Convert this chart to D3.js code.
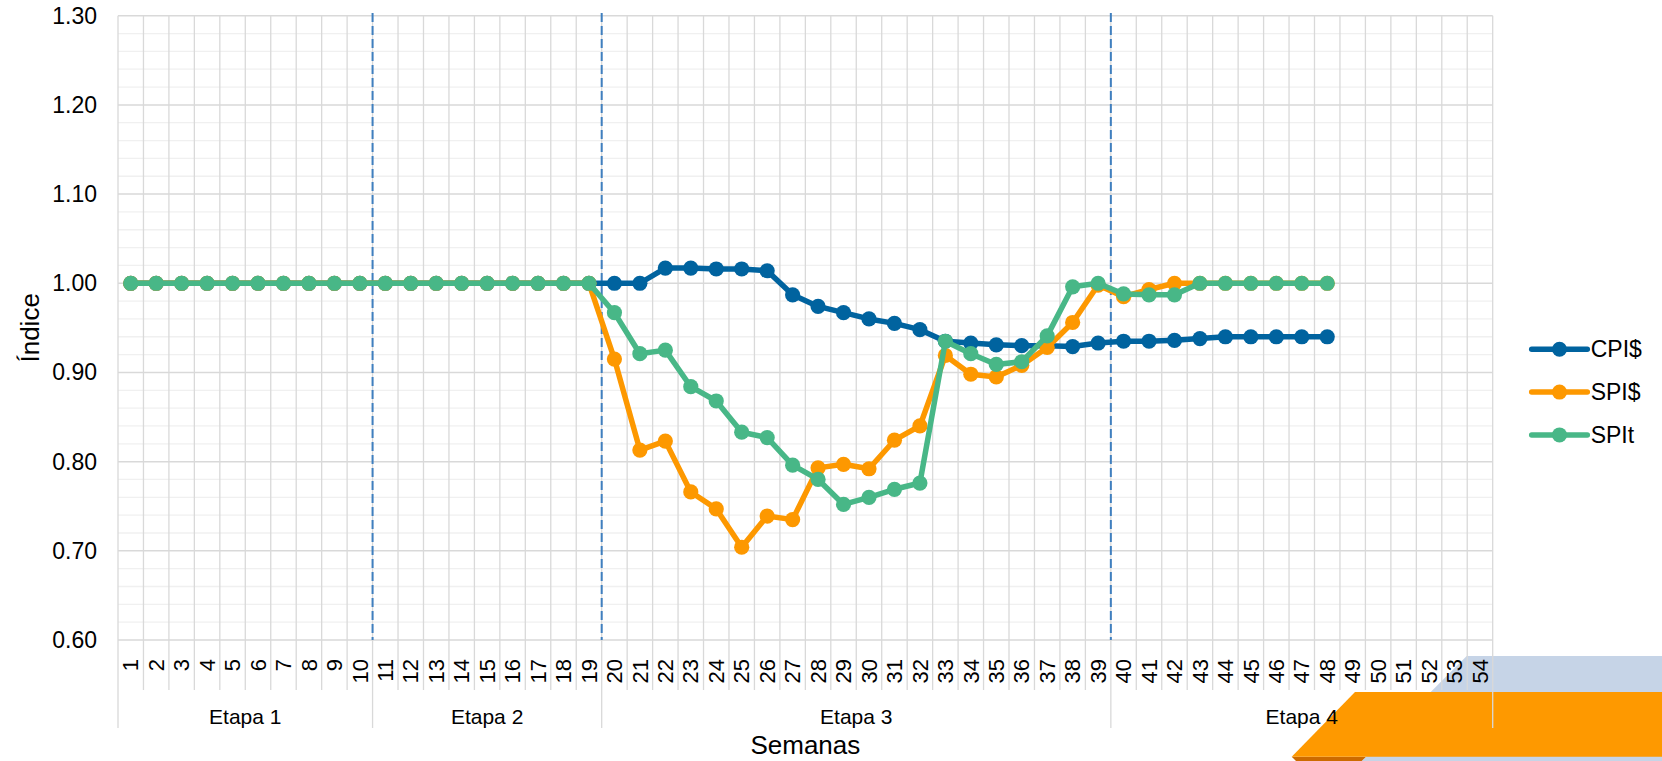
<!DOCTYPE html>
<html lang="es">
<head>
<meta charset="utf-8">
<script src="https://cdn.jsdelivr.net/npm/d3@7"></script>
<style>
  html, body { margin: 0; padding: 0; background: #ffffff; }
  svg { display: block; font-family: "Liberation Sans", Arial, sans-serif; }
</style>
</head>
<body>
<svg id="chart" width="1662" height="761"></svg>
<script>
// Semanas 1..54
const weeks = d3.range(1, 55);

// Etapas del proyecto (primera y última semana de cada una)
const stageNames = ["Etapa 1", "Etapa 2", "Etapa 3", "Etapa 4"];
const stageStart = [1, 11, 20, 40];
const stageEnd   = [10, 19, 39, 54];

// Índices semanales (semanas 1..48)
const cpi = [
  1.000, 1.000, 1.000, 1.000, 1.000, 1.000, 1.000, 1.000, 1.000, 1.000,
  1.000, 1.000, 1.000, 1.000, 1.000, 1.000, 1.000, 1.000, 1.000, 1.000,
  1.000, 1.017, 1.017, 1.016, 1.016, 1.014, 0.987, 0.974, 0.967, 0.960,
  0.955, 0.948, 0.935, 0.933, 0.931, 0.930, 0.930, 0.929, 0.933, 0.935,
  0.935, 0.936, 0.938, 0.940, 0.940, 0.940, 0.940, 0.940
];
const spiCost = [
  1.000, 1.000, 1.000, 1.000, 1.000, 1.000, 1.000, 1.000, 1.000, 1.000,
  1.000, 1.000, 1.000, 1.000, 1.000, 1.000, 1.000, 1.000, 1.000, 0.915,
  0.813, 0.823, 0.766, 0.747, 0.704, 0.739, 0.735, 0.793, 0.797, 0.792,
  0.824, 0.840, 0.919, 0.898, 0.895, 0.908, 0.928, 0.956, 0.998, 0.985,
  0.993, 1.000, 1.000, 1.000, 1.000, 1.000, 1.000, 1.000
];
const spiTime = [
  1.000, 1.000, 1.000, 1.000, 1.000, 1.000, 1.000, 1.000, 1.000, 1.000,
  1.000, 1.000, 1.000, 1.000, 1.000, 1.000, 1.000, 1.000, 1.000, 0.967,
  0.921, 0.925, 0.884, 0.868, 0.833, 0.827, 0.796, 0.780, 0.752, 0.760,
  0.769, 0.776, 0.935, 0.921, 0.909, 0.912, 0.941, 0.996, 1.000, 0.988,
  0.987, 0.987, 1.000, 1.000, 1.000, 1.000, 1.000, 1.000
];

const seriesNames  = ["CPI$", "SPI$", "SPIt"];
const seriesValues = [cpi, spiCost, spiTime];
const seriesColors = ["#00639f", "#fd9800", "#48b787"];

// Eje vertical
const yMin = 0.60, yMax = 1.30;
const yMajorTicks = d3.range(0, 8).map(i => +(yMin + i * 0.10).toFixed(2));
const yMinorTicks = d3.range(0, 36).map(i => +(yMin + i * 0.02).toFixed(2));

// ---------------------------------------------------------------
(function draw() {
  const svg = d3.select("#chart");
  const plotLeft = 118, plotRight = 1492.7, plotTop = 15.7, plotBottom = 640;
  const labelBottom = 690, groupBottom = 728;
  const gridColor = "#d9d9d9", minorColor = "#f0f0f0";

  // Franjas decorativas en la esquina inferior derecha
  const deco = svg.append("g");
  deco.append("path").attr("fill", "#c6d4e7")
    .attr("d", "M1466.7,656 L1662,656 L1662,761 L1361.7,761 Z");
  deco.append("path").attr("fill", "#cc6b00")
    .attr("d", "M1291.7,756.7 L1366,756.7 L1361.7,761 L1296,761 Z");
  deco.append("path").attr("fill", "#fe9900")
    .attr("d", "M1355,692 L1662,692 L1662,756.7 L1291.7,756.7 Z");

  const x = d3.scaleBand().domain(weeks).range([plotLeft, plotRight]).padding(0);
  const y = d3.scaleLinear().domain([yMin, yMax]).range([plotBottom, plotTop]);
  const bw = x.bandwidth();

  // Rejilla menor horizontal
  svg.append("g").selectAll("line")
    .data(yMinorTicks.filter(v => !yMajorTicks.some(m => Math.abs(m - v) < 1e-6)))
    .join("line")
    .attr("x1", plotLeft).attr("x2", plotRight)
    .attr("y1", d => y(d)).attr("y2", d => y(d))
    .attr("stroke", minorColor).attr("stroke-width", 1.3);

  // Rejilla vertical (límites de semana) y separadores de etiquetas
  const boundaries = weeks.map(w => x(w)).concat([plotRight]);
  svg.append("g").selectAll("line")
    .data(boundaries)
    .join("line")
    .attr("x1", d => d).attr("x2", d => d)
    .attr("y1", plotTop).attr("y2", labelBottom)
    .attr("stroke", gridColor).attr("stroke-width", 1.3);

  // Líneas que delimitan las etapas en la zona de etiquetas
  const stageEdges = stageStart.map(s => x(s)).concat([plotRight]);
  svg.append("g").selectAll("line")
    .data(stageEdges)
    .join("line")
    .attr("x1", d => d).attr("x2", d => d)
    .attr("y1", labelBottom).attr("y2", groupBottom)
    .attr("stroke", gridColor).attr("stroke-width", 1.3);

  // Rejilla mayor horizontal
  svg.append("g").selectAll("line")
    .data(yMajorTicks)
    .join("line")
    .attr("x1", plotLeft).attr("x2", plotRight)
    .attr("y1", d => y(d)).attr("y2", d => y(d))
    .attr("stroke", gridColor).attr("stroke-width", 1.5);

  // Eje Y
  const yAxis = d3.axisLeft(y).tickValues(yMajorTicks)
    .tickFormat(d3.format(".2f")).tickSize(0).tickPadding(21);
  const yg = svg.append("g").attr("transform", `translate(${plotLeft},0)`).call(yAxis);
  yg.select(".domain").remove();
  yg.selectAll("text").attr("font-size", 23).attr("fill", "#000")
    .attr("font-family", "Liberation Sans, Arial, sans-serif");

  // Etiquetas de semana (verticales)
  svg.append("g").selectAll("text")
    .data(weeks)
    .join("text")
    .attr("transform", d => `translate(${x(d) + bw / 2},659) rotate(-90)`)
    .attr("text-anchor", "end")
    .attr("dy", "0.35em")
    .attr("font-size", 22)
    .attr("fill", "#000")
    .text(d => d);

  // Etiquetas de etapa
  svg.append("g").selectAll("text")
    .data(stageNames)
    .join("text")
    .attr("x", (d, i) => (x(stageStart[i]) + x(stageEnd[i]) + bw) / 2)
    .attr("y", 716.7)
    .attr("dy", "0.35em")
    .attr("text-anchor", "middle")
    .attr("font-size", 21)
    .attr("fill", "#000")
    .text(d => d);

  // Divisiones entre etapas (discontinuas)
  svg.append("g").selectAll("line")
    .data(stageStart.slice(1))
    .join("line")
    .attr("x1", d => x(d)).attr("x2", d => x(d))
    .attr("y1", 13).attr("y2", plotBottom)
    .attr("stroke", "#3f7fbf").attr("stroke-width", 2)
    .attr("stroke-dasharray", "9,4");

  // Series
  const line = d3.line()
    .x((d, i) => x(weeks[i]) + bw / 2)
    .y(d => y(d));

  seriesValues.forEach((vals, k) => {
    const g = svg.append("g");
    g.append("path")
      .datum(vals)
      .attr("d", line)
      .attr("fill", "none")
      .attr("stroke", seriesColors[k])
      .attr("stroke-width", 5.5)
      .attr("stroke-linejoin", "round")
      .attr("stroke-linecap", "round");
    g.selectAll("circle")
      .data(vals)
      .join("circle")
      .attr("cx", (d, i) => x(weeks[i]) + bw / 2)
      .attr("cy", d => y(d))
      .attr("r", 7.6)
      .attr("fill", seriesColors[k]);
  });

  // Títulos de ejes
  svg.append("text")
    .attr("transform", `translate(30,${(plotTop + plotBottom) / 2}) rotate(-90)`)
    .attr("text-anchor", "middle")
    .attr("dy", "0.35em")
    .attr("font-size", 26)
    .attr("fill", "#000")
    .text("Índice");

  svg.append("text")
    .attr("x", (plotLeft + plotRight) / 2)
    .attr("y", 745)
    .attr("dy", "0.35em")
    .attr("text-anchor", "middle")
    .attr("font-size", 26)
    .attr("fill", "#000")
    .text("Semanas");

  // Leyenda
  const legend = svg.append("g");
  seriesNames.forEach((name, k) => {
    const cy = 349.3 + k * 42.8;
    legend.append("line")
      .attr("x1", 1531.7).attr("x2", 1587.3)
      .attr("y1", cy).attr("y2", cy)
      .attr("stroke", seriesColors[k]).attr("stroke-width", 5.5)
      .attr("stroke-linecap", "round");
    legend.append("circle")
      .attr("cx", 1559.5).attr("cy", cy).attr("r", 7.5)
      .attr("fill", seriesColors[k]);
    legend.append("text")
      .attr("x", 1590.7).attr("y", cy)
      .attr("dy", "0.35em")
      .attr("font-size", 23)
      .attr("fill", "#000")
      .text(name);
  });
})();
</script>
</body>
</html>
